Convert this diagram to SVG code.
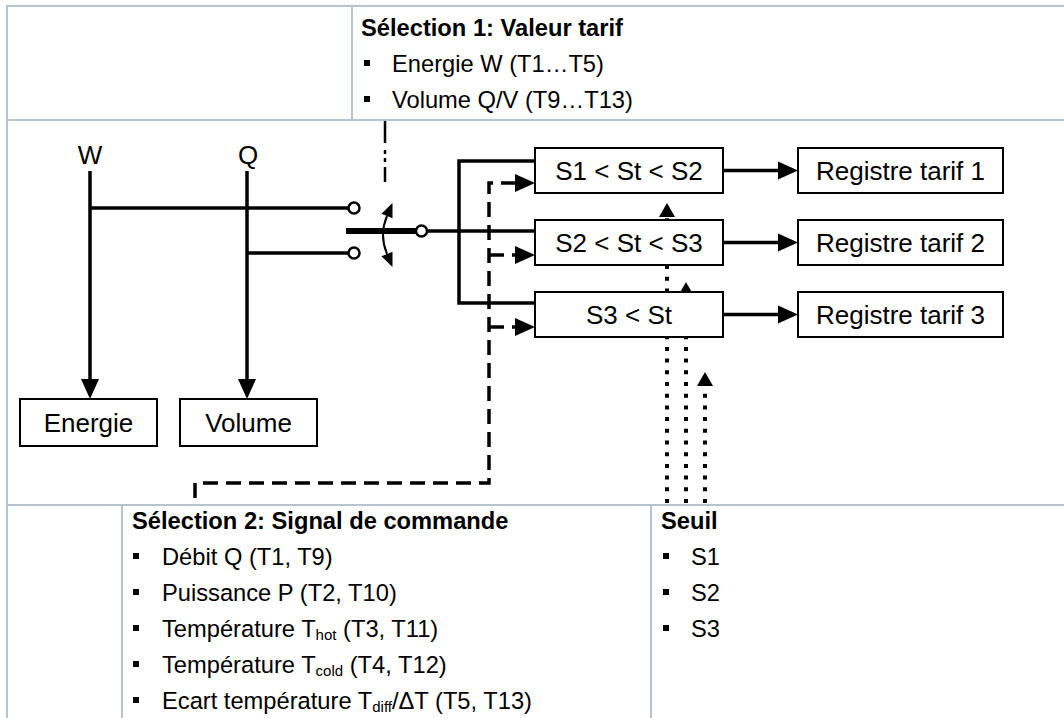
<svg xmlns="http://www.w3.org/2000/svg" xmlns:xlink="http://www.w3.org/1999/xlink" width="1064" height="718" viewBox="0 0 1064 718">
<style>
.grid{stroke:#b7c4d0;stroke-width:2;fill:none}
.t{font-family:"Liberation Sans",Arial,sans-serif;font-size:23.7px;fill:#000}
.b{font-weight:bold}
.d{font-family:"Liberation Sans",Arial,sans-serif;font-size:26px;fill:#000;text-anchor:middle}
.box{fill:#fff;stroke:#000;stroke-width:2}
.ln{fill:none;stroke:#000;stroke-width:3.5}
.dash{fill:none;stroke:#000;stroke-width:3.5;stroke-dasharray:15 8}
.dot{fill:none;stroke:#000;stroke-width:4;stroke-dasharray:4 7.7}
.sub{font-size:15px}
.bul{fill:#000}
.ah{fill:#000}
</style>
<defs>
<path id="ah" d="M0,-9 L20,0 L0,9 Z"/>
<path id="ahs" d="M0,-8 L14,0 L0,8 Z"/>
<path id="ahc" d="M0,-6 L14,0 L0,6 Z"/>
</defs>
<rect width="1064" height="718" fill="#fff"/>

<g id="table">
<path class="grid" d="M6,6 H1064 M7,5 V718 M352,6 V120 M6,120 H1064 M6,505 H1064 M122,505 V718 M651,505 V718"/>
</g>

<g id="selection1">
<text class="t b" x="361" y="36">Sélection 1: Valeur tarif</text>
<rect class="bul" x="364" y="60" width="6" height="6"/>
<text class="t" x="392" y="72">Energie W (T1…T5)</text>
<rect class="bul" x="364" y="96" width="6" height="6"/>
<text class="t" x="392" y="108">Volume Q/V (T9…T13)</text>
</g>

<g id="selection2">
<text class="t b" x="132" y="529">Sélection 2: Signal de commande</text>
<rect class="bul" x="133" y="553" width="6" height="6"/>
<text class="t" x="162" y="565">Débit Q (T1, T9)</text>
<rect class="bul" x="133" y="589" width="6" height="6"/>
<text class="t" x="162" y="601">Puissance P (T2, T10)</text>
<rect class="bul" x="133" y="625" width="6" height="6"/>
<text class="t" x="162" y="637">Température T<tspan class="sub" dy="3">hot</tspan><tspan dy="-3"> (T3, T11)</tspan></text>
<rect class="bul" x="133" y="661" width="6" height="6"/>
<text class="t" x="162" y="673">Température T<tspan class="sub" dy="3">cold</tspan><tspan dy="-3"> (T4, T12)</tspan></text>
<rect class="bul" x="133" y="697" width="6" height="6"/>
<text class="t" x="162" y="709">Ecart température T<tspan class="sub" dy="3">diff</tspan><tspan dy="-3">/ΔT (T5, T13)</tspan></text>
</g>

<g id="seuil">
<text class="t b" x="661" y="529">Seuil</text>
<rect class="bul" x="663" y="553" width="6" height="6"/>
<text class="t" x="691" y="565">S1</text>
<rect class="bul" x="663" y="589" width="6" height="6"/>
<text class="t" x="691" y="601">S2</text>
<rect class="bul" x="663" y="625" width="6" height="6"/>
<text class="t" x="691" y="637">S3</text>
</g>

<g id="connectors">
<path class="ln" d="M90,171 V379 M247,171 V379 M90,208 H348 M247,253 H348"/>
<use href="#ah" class="ah" transform="translate(90,379) rotate(90)"/>
<use href="#ah" class="ah" transform="translate(247,379) rotate(90)"/>
<path fill="none" stroke="#000" stroke-width="6" d="M346,231 H416"/>
<path class="ln" d="M427,231 H535 M535,161 H459 V303 H535"/>
<path fill="none" stroke="#000" stroke-width="2" d="M387,216 Q379,235 387,254"/>
<use href="#ahc" class="ah" transform="translate(387,216) rotate(-67)"/>
<use href="#ahc" class="ah" transform="translate(387,254) rotate(67)"/>
<path fill="none" stroke="#000" stroke-width="2.5" d="M385,121 V143 M385,150 V154 M385,158 V162 M385,167 V182"/>
<path class="ln" d="M723,170.5 H778 M723,242.5 H778 M723,314.5 H778"/>
<use href="#ah" class="ah" transform="translate(778,170.5)"/>
<use href="#ah" class="ah" transform="translate(778,242.5)"/>
<use href="#ah" class="ah" transform="translate(778,314.5)"/>
<path class="dash" d="M516,183 H489 V483 H195 V500"/>
<path class="dash" d="M489,255 H515 M489,327 H515"/>
<use href="#ah" class="ah" transform="translate(515,183)"/>
<use href="#ah" class="ah" transform="translate(515,255)"/>
<use href="#ah" class="ah" transform="translate(515,327)"/>
<path class="dot" d="M667,503 V214 M686,503 V296 M705,503 V386"/>
<use href="#ahs" class="ah" transform="translate(667,217) rotate(-90)"/>
<use href="#ahs" class="ah" transform="translate(686,296) rotate(-90)"/>
<use href="#ahs" class="ah" transform="translate(705,386) rotate(-90)"/>
</g>

<g id="switch">
<circle cx="354" cy="208" r="5.5" fill="#fff" stroke="#000" stroke-width="2.5"/>
<circle cx="354" cy="253" r="5.5" fill="#fff" stroke="#000" stroke-width="2.5"/>
<circle cx="421.5" cy="231" r="5.5" fill="#fff" stroke="#000" stroke-width="2.5"/>
</g>

<g id="label-W"><text class="d" x="90" y="164">W</text></g>
<g id="label-Q"><text class="d" x="248" y="164">Q</text></g>

<g id="energie"><rect class="box" x="20" y="399" width="137" height="47"/><text class="d" x="88.5" y="432">Energie</text></g>
<g id="volume"><rect class="box" x="180" y="399" width="137" height="47"/><text class="d" x="248.5" y="432">Volume</text></g>

<g id="cond1"><rect class="box" x="535" y="148" width="188" height="45"/><text class="d" x="629" y="180">S1 &lt; St &lt; S2</text></g>
<g id="cond2"><rect class="box" x="535" y="220" width="188" height="45"/><text class="d" x="629" y="252">S2 &lt; St &lt; S3</text></g>
<g id="cond3"><rect class="box" x="535" y="292" width="188" height="45"/><text class="d" x="629" y="324">S3 &lt; St</text></g>

<g id="reg1"><rect class="box" x="798" y="148" width="205" height="45"/><text class="d" x="900.5" y="180">Registre tarif 1</text></g>
<g id="reg2"><rect class="box" x="798" y="220" width="205" height="45"/><text class="d" x="900.5" y="252">Registre tarif 2</text></g>
<g id="reg3"><rect class="box" x="798" y="292" width="205" height="45"/><text class="d" x="900.5" y="324">Registre tarif 3</text></g>
</svg>
